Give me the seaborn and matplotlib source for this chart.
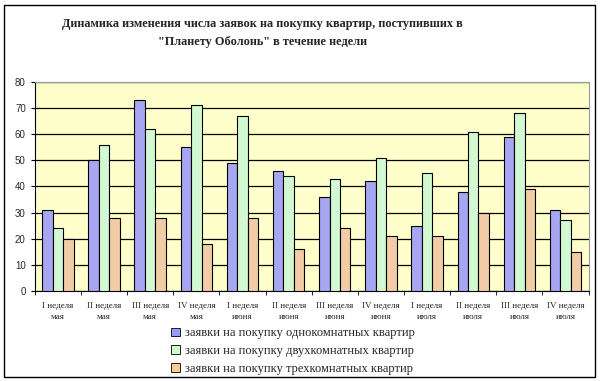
import matplotlib
matplotlib.use("Agg")
import matplotlib.pyplot as plt
import pandas as pd
import seaborn as sns

weeks = ["I неделя\nмая", "II неделя\nмая", "III неделя\nмая", "IV неделя\nмая",
         "I неделя\nиюня", "II неделя\nиюня", "III неделя\nиюня", "IV неделя\nиюня",
         "I неделя\nиюля", "II неделя\nиюля", "III неделя\nиюля", "IV неделя\nиюля"]
one_room = [31, 50, 73, 55, 49, 46, 36, 42, 25, 38, 59, 31]
two_room = [24, 56, 62, 71, 67, 44, 43, 51, 45, 61, 68, 27]
three_room = [20, 28, 28, 18, 28, 16, 24, 21, 21, 30, 39, 15]
series = ["заявки на покупку однокомнатных квартир",
          "заявки на покупку двухкомнатных квартир",
          "заявки на покупку трехкомнатных квартир"]
colors = ["#9999FF", "#CCFFCC", "#FFCC99"]

rows = []
for vals, name in zip([one_room, two_room, three_room], series):
    for w, v in zip(weeks, vals):
        rows.append({"week": w, "series": name, "value": v})
df = pd.DataFrame(rows)

sns.set_style("white")
plt.rcParams['font.family'] = ['Liberation Serif', 'DejaVu Serif']

fig = plt.figure(figsize=(6, 3.81), dpi=100)
ax = fig.add_axes([0.058, 0.236, 0.923, 0.549])
ax.set_facecolor("#FFFFCC")

sns.barplot(data=df, x="week", y="value", hue="series", palette=colors,
            width=0.68, gap=0, edgecolor="black", linewidth=0.8,
            legend=False, ax=ax, zorder=3)

ax.set_ylim(0, 80)
ax.set_yticks(range(0, 81, 10))
ax.yaxis.grid(True, color="black", linewidth=0.9, zorder=0)
ax.set_axisbelow(True)
ax.set_xlim(-0.5, 11.5)
ax.set_xlabel("")
ax.set_ylabel("")
for s in ["top", "right"]:
    ax.spines[s].set_color("#999999")
ax.spines["left"].set_color("black")
ax.spines["bottom"].set_color("black")
ax.tick_params(axis="y", labelsize=7, length=3, left=True, color="black")
for lab in ax.get_yticklabels():
    lab.set_family(["Liberation Sans", "DejaVu Sans"])
ax.set_xticks([i + 0.5 for i in range(-1, 12)], minor=True)
ax.tick_params(axis="x", which="major", length=0, labelsize=6.5, pad=8)
ax.tick_params(axis="x", which="minor", length=3, bottom=True, color="black")
for lab in ax.get_xticklabels():
    lab.set_linespacing(1.5)

fig.text(0.437, 0.914, "Динамика изменения числа заявок на покупку квартир, поступивших в\n"
         "\"Планету Оболонь\" в течение недели", ha="center", va="center",
         fontsize=8.8, fontweight="bold", linespacing=1.65)

handles = [plt.Rectangle((0, 0), 1, 1, facecolor=c, edgecolor="black", linewidth=0.6)
           for c in colors]
fig.legend(handles, series, loc="upper left", bbox_to_anchor=(0.275, 0.157),
           frameon=False, fontsize=9, handlelength=0.7, handleheight=0.7,
           handletextpad=0.4, labelspacing=0.45, borderpad=0)

border = plt.Rectangle((0.006, 0.01), 0.986, 0.978, transform=fig.transFigure,
                       fill=False, edgecolor="black", linewidth=1)
fig.patches.append(border)

fig.savefig("out.png", dpi=100)
